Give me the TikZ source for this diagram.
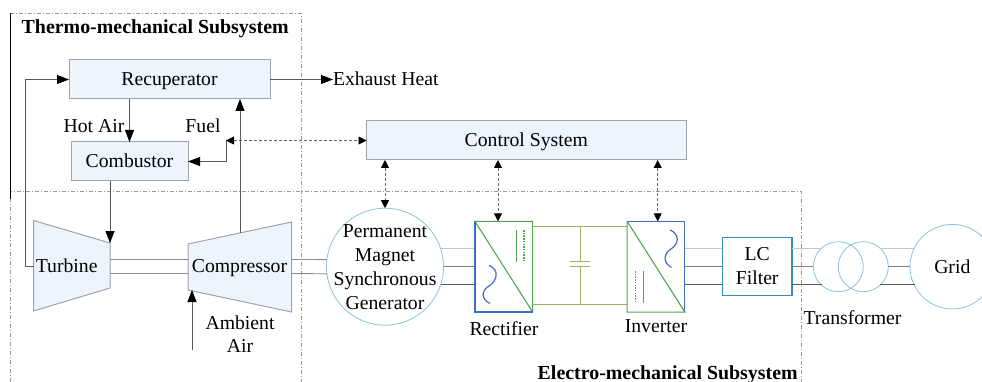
\documentclass[tikz,border=0pt]{standalone}
\usepackage{fontspec}
\setmainfont{Liberation Serif}
\usetikzlibrary{arrows.meta,calc}
\definecolor{boxfill}{HTML}{EDF4FC}
\definecolor{boxline}{HTML}{A0A4A8}
\definecolor{ringblue}{HTML}{8CC0DE}
\definecolor{convblue}{HTML}{3F6FC4}
\definecolor{convgreen}{HTML}{4FA84F}
\definecolor{busgreen}{HTML}{9BAE62}
\definecolor{filterblue}{HTML}{3488C8}
\tikzset{
  every node/.style={font=\fontsize{19.7}{24}\selectfont,inner sep=0pt,outer sep=0pt,align=center},
  oneline/.style={text height=13pt,text depth=0pt},
  titletext/.style={oneline,font=\fontsize{19.9}{24}\selectfont\bfseries},
  block/.style={draw=boxline,fill=boxfill,line width=1pt},
  frameline/.style={draw=gray!80,line width=0.7pt,dash pattern=on 4pt off 2pt on 1pt off 2pt},
  flow/.style={draw=black!65,line width=0.8pt,-{Triangle[length=12pt,width=9pt,color=black]}},
  plain/.style={draw=black!45,line width=0.9pt},
  signal/.style={draw=black!60,line width=0.8pt,dash pattern=on 3pt off 2pt,{Triangle[length=8pt,width=8pt,color=black]}-{Triangle[length=8pt,width=8pt,color=black]}},
  ring/.style={draw=ringblue,line width=0.8pt,circle},
  conv/.style={minimum width=57.7pt,minimum height=90.7pt},
  phasea/.style={draw=black!22,line width=1.2pt},
  phaseb/.style={draw=black!50,line width=0.9pt},
  phasec/.style={draw=black!65,line width=0.9pt}
}
\begin{document}
\begin{tikzpicture}[x=1pt,y=-1pt]
  \useasboundingbox (0,0) rectangle (982,382);
  % subsystem frames
  \draw[frameline] (10,13) -- (301,13) -- (301,382);
  \draw[frameline] (10,382) -- (10,191) -- (801,191) -- (801,382);
  \draw[black,line width=1pt] (10,13) -- (10,199);
  \node[titletext] (thermo) at (155.2,26.8) {Thermo-mechanical Subsystem};
  \node[titletext] (electro) at (667.7,372.5) {Electro-mechanical Subsystem};

  % blocks
  \node[block,oneline,minimum width=201pt,minimum height=39pt] (rec) at (169.5,79.5) {Recuperator};
  \node[block,oneline,minimum width=117pt,minimum height=39pt] (comb) at (129.5,161.5) {Combustor};
  \node[block,oneline,minimum width=319.5pt,minimum height=39pt] (ctrl) at (526.3,140.5) {Control System};
  \draw[block] (33.5,220.5) -- (110,243) -- (110,288) -- (33.5,311) -- cycle;
  \draw[block] (188,244) -- (291.5,222) -- (291.5,312) -- (188,290) -- cycle;
  \node[oneline] (turb) at (66.7,266.2) {Turbine};
  \node[oneline] (comp) at (239.5,266.2) {Compressor};
  \coordinate (turbin) at (110,243);
  \coordinate (turbout) at (33.5,266);
  \coordinate (compout) at (240,233);
  \coordinate (compin) at (192,290);
  \coordinate (airin) at (192,350);
  \coordinate (fuel) at (226,140.5);
  \coordinate (turbr) at (110,266);
  \coordinate (compl) at (188,266);
  \coordinate (compr) at (291.5,266);

  % labels
  \node[oneline] (hotair) at (94,126.2) {Hot Air};
  \node[oneline] (fuellabel) at (203,126.2) {Fuel};
  \node[oneline] (ambient) at (240,322.5) {Ambient};
  \node[oneline] (air) at (240,345.8) {Air};
  \node[oneline,anchor=west] (exhaust) at (333,79.5) {Exhaust Heat};
  \node[oneline] (rectlabel) at (504,329.2) {Rectifier};
  \node[oneline] (invlabel) at (656,325.8) {Inverter};
  \node[oneline] (txlabel) at (852.5,317.5) {Transformer};

  % electrical parts
  \node[ring,minimum size=117pt] (pmsg) at (385,266.7) {};
  \node (pmsglabel) at (385,266.7) {Permanent\\Magnet\\Synchronous\\Generator};
  \node[conv] (rect) at (503.8,266.7) {};
  \node[conv] (inv) at (656,266.7) {};
  \node[draw=filterblue,line width=1.2pt,minimum width=69.7pt,minimum height=57.6pt] (lc) at (757.2,266.5) {LC\\Filter};
  \node[ring,minimum size=50pt] (tx1) at (838.3,266.7) {};
  \node[ring,minimum size=50pt] (tx2) at (863.3,266.7) {};
  \node[ring,oneline,minimum size=84.6pt] (grid) at (952.3,266.7) {Grid};

  % gas path
  \begin{scope}[flow]
    \draw (turbout) -- ++(-8.5,0) |- (rec.west);
    \draw (rec.south -| comb.north) to (comb.north);
    \draw (comb.south -| turbin) to (turbin);
    \draw (compout) to (compout |- rec.south);
    \draw (airin) to (compin);
    \draw (rec.east) to (exhaust.west);
    \draw (fuel) |- (comb.east);
  \end{scope}

  % shafts
  \begin{scope}[plain]
    \draw ([yshift=6.5pt]turbr) to ([yshift=6.5pt]compl);
    \draw ([yshift=-7.5pt]turbr) to ([yshift=-7.5pt]compl);
    \draw ([yshift=6.5pt]compr) to (pmsg.173.6);
    \draw ([yshift=-7.5pt]compr) to (pmsg.187.4);
  \end{scope}

  % control links
  \begin{scope}[signal]
    \draw (fuel) to (ctrl.west);
    \draw (ctrl.south -| pmsg.north) to (pmsg.north);
    \draw (ctrl.south -| 498,0) to (rect.north -| 498,0);
    \draw (ctrl.south -| 657.7,0) to (inv.north -| 657.7,0);
  \end{scope}

  % three phase lines
  \draw[phasea] (pmsg.18.6) to (rect.west |- pmsg.18.6);
  \draw[phaseb] (pmsg.0) to (rect.west |- pmsg.0);
  \draw[phasec] (pmsg.-18.6) to (rect.west |- pmsg.-18.6);
  \draw[phasea] (inv.east |- pmsg.18.6) to (lc.west |- pmsg.18.6);
  \draw[phaseb] (inv.east |- pmsg.0) to (lc.west |- pmsg.0);
  \draw[phasec] (inv.east |- pmsg.-18.6) to (lc.west |- pmsg.-18.6);
  \draw[phasea] (lc.east |- pmsg.18.6) to (tx1.131.6 |- pmsg.18.6);
  \draw[phaseb] (lc.east |- pmsg.0) to (tx1.180 |- pmsg.0);
  \draw[phasec] (lc.east |- pmsg.-18.6) to (tx1.-131.6 |- pmsg.-18.6);
  \draw[phasea] (tx2.48.4 |- pmsg.18.6) to (grid.153.8 |- pmsg.18.6);
  \draw[phaseb] (tx2.0 |- pmsg.0) to (grid.180 |- pmsg.0);
  \draw[phasec] (tx2.-48.4 |- pmsg.-18.6) to (grid.-153.8 |- pmsg.-18.6);

  % dc link
  \coordinate (bustop) at (580.3,226.7);
  \coordinate (busbot) at (580.3,304.3);
  \coordinate (capa) at (580.3,261.7);
  \coordinate (capb) at (580.3,266.7);
  \begin{scope}[draw=busgreen,line width=1pt]
    \draw (rect.east |- bustop) to (inv.west |- bustop);
    \draw (rect.east |- busbot) to (inv.west |- busbot);
    \draw (bustop) to (capa);
    \draw (capb) to (busbot);
    \draw ([xshift=-10pt]capa) to ([xshift=10pt]capa);
    \draw ([xshift=-10pt]capb) to ([xshift=10pt]capb);
  \end{scope}

  % rectifier
  \draw[convgreen,line width=1.1pt] (rect.south east) -- (rect.north east) -- (rect.north west) -- (rect.south east);
  \draw[convblue,line width=1.2pt] (rect.north west) -- (rect.south west) -- (rect.south east);
  \draw[convgreen,line width=1.3pt] (516.3,230) -- (516.3,262);
  \draw[convgreen,line width=1.3pt,dash pattern=on 1.5pt off 1.2pt] (524,230) -- (524,262);
  \draw[convblue,line width=1.2pt] (489,265.3) .. controls (500,270) and (497,281) .. (489,286) .. controls (481,291) and (481,299) .. (490,303.5);

  % inverter
  \draw[convgreen,line width=1.1pt] (inv.north west) -- (inv.south west) -- (inv.south east) -- (inv.north west);
  \draw[convblue,line width=1.2pt] (inv.north west) -- (inv.north east) -- (inv.south east);
  \draw[convgreen,line width=1.3pt] (643.7,271) -- (643.7,303);
  \draw[convgreen,line width=1.3pt,dash pattern=on 1.5pt off 1.2pt] (635.7,271) -- (635.7,303);
  \draw[convblue,line width=1.2pt] (670,230) .. controls (680,234) and (679,244) .. (671,249) .. controls (663,254) and (663,263) .. (671.5,267.5);
\end{tikzpicture}
\end{document}
